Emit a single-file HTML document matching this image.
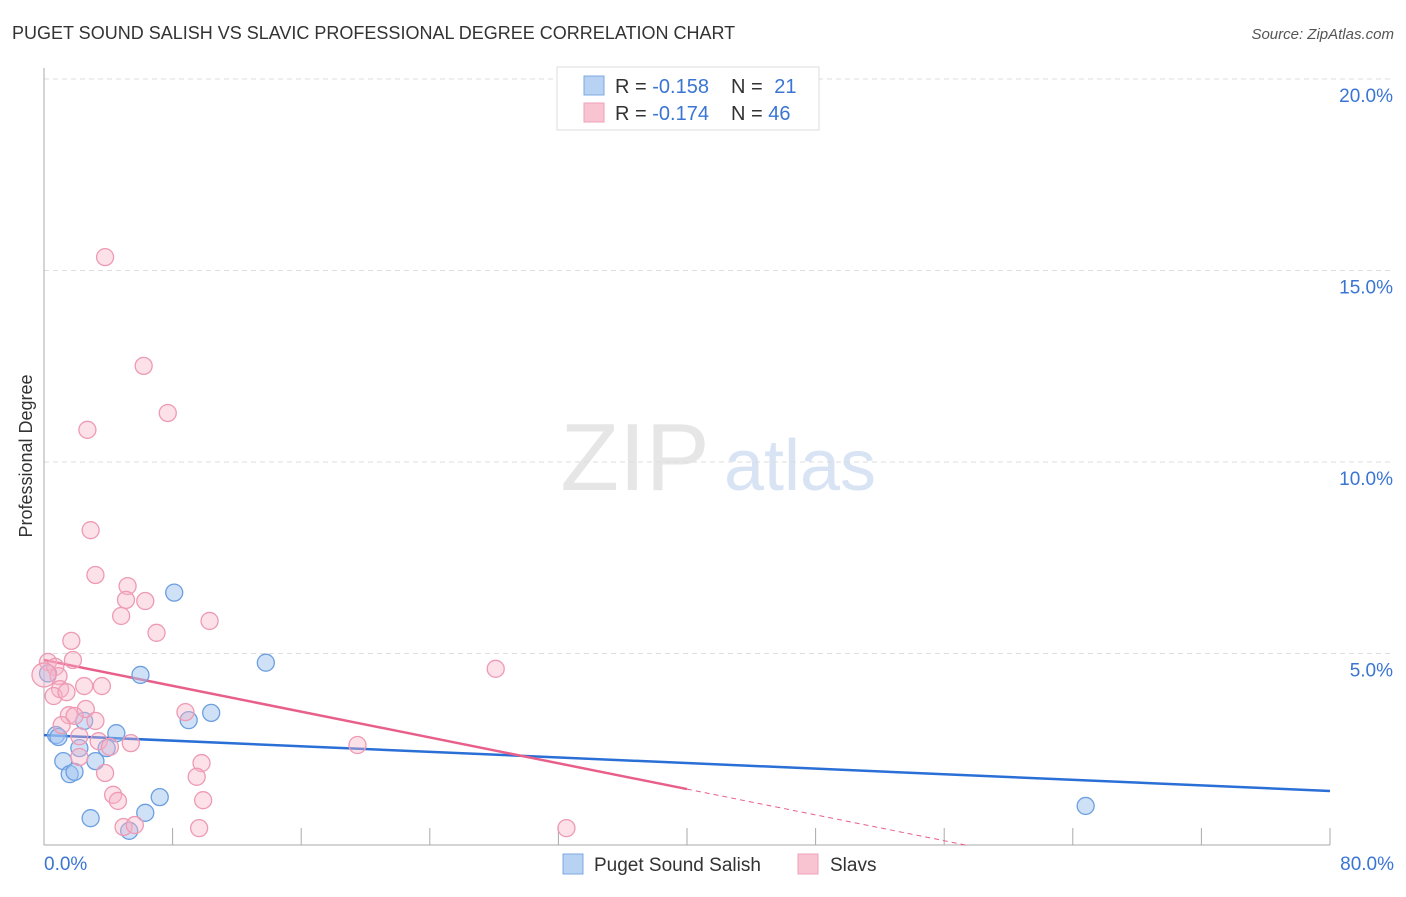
<!DOCTYPE html>
<html><head><meta charset="utf-8"><style>
body{margin:0;background:#fff;font-family:"Liberation Sans",sans-serif;}
svg text{font-family:"Liberation Sans",sans-serif;}
</style></head><body>
<svg id="chart" width="1406" height="892">
<text x="12" y="39" font-size="18" fill="#333">PUGET SOUND SALISH VS SLAVIC PROFESSIONAL DEGREE CORRELATION CHART</text>
<text x="1394" y="39" font-size="15" fill="#555" text-anchor="end" font-style="italic">Source: ZipAtlas.com</text>
<text x="32" y="456" font-size="18" fill="#333" text-anchor="middle" transform="rotate(-90 32 456)">Professional Degree</text>
<g><text x="635" y="490" font-size="96" fill="#e6e6e6" font-family="Liberation Serif" text-anchor="middle">ZIP</text><text x="800" y="490" font-size="72" fill="#d8e4f4" text-anchor="middle">atlas</text></g>
<g id="grid"></g><g id="axes"></g><g id="lines"></g><g id="pts"></g>
<g>
<rect x="557" y="67" width="262" height="63" fill="#fff" stroke="#ddd"/>
<rect x="584" y="76" width="20" height="19" fill="#b8d2f4" stroke="#7ea8e0"/>
<rect x="584" y="103" width="20" height="19" fill="#f9c4d2" stroke="#eea0b6"/>
<text x="615" y="93" font-size="20" fill="#333">R = <tspan fill="#3a75d4">-0.158</tspan></text>
<text x="731" y="93" font-size="20" fill="#333">N = <tspan fill="#3a75d4" dx="6">21</tspan></text>
<text x="615" y="120" font-size="20" fill="#333">R = <tspan fill="#3a75d4">-0.174</tspan></text>
<text x="731" y="120" font-size="20" fill="#333">N = <tspan fill="#3a75d4">46</tspan></text>
</g>
<g>
<rect x="563" y="854" width="20" height="20" fill="#b8d2f4" stroke="#7ea8e0"/>
<text x="594" y="871" font-size="19" fill="#333">Puget Sound Salish</text>
<rect x="798" y="854" width="20" height="20" fill="#f9c4d2" stroke="#eea0b6"/>
<text x="830" y="871" font-size="19" fill="#333">Slavs</text>
</g>
</svg>
<script>
const yTicks=[5,10,15,20];
const yTickLabels=["5.0%","10.0%","15.0%","20.0%"];
const xTickLabels=["0.0%","80.0%"];
const blueX=[8.1,13.8,6.0,10.4,9.0,2.5,4.5,0.75,0.9,2.2,3.9,1.2,3.2,1.6,1.9,7.2,6.3,2.9,5.3,64.8,0.25];
const blueY=[6.59,4.76,4.44,3.45,3.26,3.24,2.92,2.87,2.82,2.53,2.53,2.19,2.19,1.85,1.91,1.25,0.84,0.70,0.37,1.02,4.48];
const pinkX=[3.8,6.2,7.7,2.7,2.9,3.2,5.2,5.1,6.3,4.8,7.0,10.3,1.7,1.8,0.25,0.7,0.9,2.5,3.6,1.0,0.6,1.4,2.6,1.55,3.2,1.9,1.1,2.2,3.4,4.1,5.4,2.2,3.8,8.8,9.8,9.5,4.3,4.6,9.9,4.95,5.65,9.65,28.1,19.5,32.5,0.0];
const pinkY=[15.35,12.51,11.28,10.84,8.22,7.05,6.76,6.40,6.37,5.98,5.54,5.85,5.33,4.83,4.78,4.65,4.41,4.15,4.15,4.07,3.89,3.99,3.55,3.39,3.24,3.37,3.13,2.84,2.71,2.56,2.66,2.298,1.88,3.47,2.14,1.78,1.31,1.15,1.17,0.47,0.52,0.44,4.60,2.61,0.44,4.44];
const blueTrend=[2.87,1.41];
const pinkTrend=[4.83,1.46];
const X=v=>44+v*16.075, Y=v=>845-v*38.3;
const NS="http://www.w3.org/2000/svg";
function mk(p,t,a){const e=document.createElementNS(NS,t);for(const k in a)e.setAttribute(k,a[k]);document.getElementById(p).appendChild(e);return e;}
yTicks.forEach((t,i)=>{
 const l=mk('grid','line',{x1:44,x2:1394,y1:Y(t),y2:Y(t),stroke:'#ddd','stroke-dasharray':'5,4'});
 
 
 const tx=mk('axes','text',{x:1393,y:Y(t)+23,'font-size':19,fill:'#3a75d4','text-anchor':'end'});
 tx.textContent=yTickLabels[i];
 
 
});
const ax=mk('axes','line',{x1:44,x2:44,y1:68,y2:845,stroke:'#aaa'});


const bx=mk('axes','line',{x1:44,x2:1330,y1:845,y2:845,stroke:'#aaa'});


for(let i=0;i<=10;i++){const t=mk('axes','line',{x1:X(i*8),x2:X(i*8),y1:828,y2:845,stroke:'#aaa'});
 
 }
[[0,'start',44],[80,'end',1394]].forEach((d,i)=>{const t=mk('axes','text',{x:d[2],y:870,'font-size':19,fill:'#3a75d4','text-anchor':d[1]});t.textContent=xTickLabels[i];
 
 });
blueX.forEach((x,i)=>{const c=mk('pts','circle',{cx:X(x),cy:Y(blueY[i]),r:8.5,fill:'rgba(160,196,240,0.5)',stroke:'#6d9fe0','stroke-width':1.3});
 
 });
pinkX.forEach((x,i)=>{const c=mk('pts','circle',{cx:X(x),cy:Y(pinkY[i]),r:i==pinkX.length-1?12:8.5,fill:'rgba(248,180,200,0.4)',stroke:'#ee9ab4','stroke-width':1.3});
 
 });
const bl=mk('lines','line',{x1:X(0),y1:Y(blueTrend[0]),x2:X(80),y2:Y(blueTrend[1]),stroke:'#2a6fd6','stroke-width':2.5});


const ps=(pinkTrend[1]-pinkTrend[0])/40, z=-pinkTrend[0]/ps;
const pl=mk('lines','line',{x1:X(0),y1:Y(pinkTrend[0]),x2:X(40),y2:Y(pinkTrend[1]),stroke:'#e8608a','stroke-width':2.5});


const pd=mk('lines','line',{x1:X(40),y1:Y(pinkTrend[1]),x2:X(z),y2:Y(0),stroke:'#e8608a','stroke-width':1,'stroke-dasharray':'5,4'});


</script>
</body></html>
